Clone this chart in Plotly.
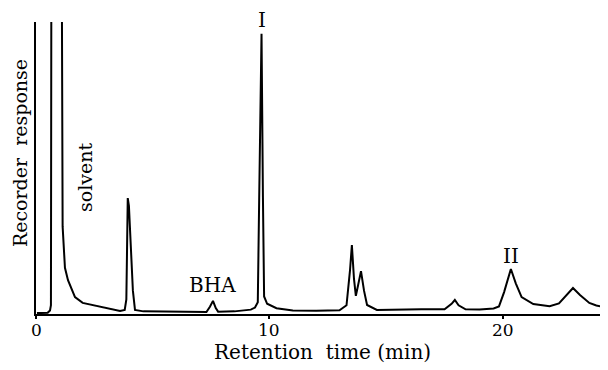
import plotly.graph_objects as go

# Chromatogram trace (retention time in min, recorder response in % of full scale)
time_min = [0.04, 0.5, 0.6, 0.64, 0.66, 1.10, 1.14, 1.24, 1.37, 1.67, 2.0, 2.8, 3.6, 3.8, 3.87, 3.93,
            3.98, 4.15, 4.24, 4.6, 5.5, 6.5, 7.3, 7.45, 7.58, 7.7, 7.8, 8.5, 9.2, 9.38, 9.5, 9.56,
            9.66, 9.72, 9.77, 9.9, 10.3, 11.0, 12.0, 13.0, 13.3, 13.45, 13.53, 13.62, 13.7, 13.8,
            13.92, 14.05, 14.18, 14.6, 15.5, 16.5, 17.5, 17.8, 17.94, 18.1, 18.4, 19.0, 19.6, 19.83,
            20.05, 20.34, 20.55, 20.8, 21.3, 22.0, 22.4, 22.7, 23.0, 23.3, 23.7, 24.0, 24.4]
response = [0.3, 0.4, 1.2, 3, 130, 130, 30, 15.8, 11.6, 5.8, 3.8, 2.3, 1.0, 1.4, 5, 39.7,
            37, 8, 1.4, 0.9, 0.8, 0.7, 0.7, 2.5, 4.5, 2.0, 0.8, 0.9, 1.5, 2.2, 4, 40,
            96, 40, 6, 3.5, 2, 1.2, 1.1, 1.3, 3, 15, 23.6, 12, 6.2, 10,
            14.7, 8, 3.1, 1.4, 1.6, 1.6, 1.6, 3.5, 4.8, 3, 1.6, 1.5, 1.9, 2.6,
            7.5, 15.4, 10.5, 5.8, 3.4, 2.7, 3.6, 6.3, 8.9, 6.5, 3.8, 2.9, 2.3]

x_ticks = [0, 10, 20]
x_tick_labels = ["0", "10", "20"]

peak_labels = ["solvent", "BHA", "II"]
peak_label_x = [2.1, 7.58, 20.34]
peak_label_y = [46.6, 10, 19.9]

SERIF = "DejaVu Serif"

fig = go.Figure()
fig.add_trace(go.Scatter(x=time_min, y=response, mode="lines",
                         line=dict(color="black", width=2), hoverinfo="skip"))

annotations = []
for lab, lx, ly in zip(peak_labels, peak_label_x, peak_label_y):
    annotations.append(dict(x=lx, y=ly, xref="x", yref="y", text=lab, showarrow=False,
                            textangle=-90 if lab == "solvent" else 0,
                            font=dict(family=SERIF, size=19 if lab == "solvent" else 20, color="black")))
annotations.append(dict(x=9.66, y=1.007, xref="x", yref="paper", text="I", showarrow=False,
                        yanchor="middle", font=dict(family=SERIF, size=20, color="black")))
for tv, tl in zip(x_ticks, x_tick_labels):
    annotations.append(dict(x=tv, y=-0.056, xref="x", yref="paper", text=tl, showarrow=False,
                            xanchor="center", yanchor="middle",
                            font=dict(family=SERIF, size=17, color="black")))
annotations.append(dict(x=-0.028, y=0.551, xref="paper", yref="paper", text="Recorder  response",
                        showarrow=False, textangle=-90, xanchor="center", yanchor="middle",
                        font=dict(family=SERIF, size=19, color="black")))
annotations.append(dict(x=0.5, y=-0.131, xref="paper", yref="paper", text="Retention  time (min)",
                        showarrow=False, xanchor="center", yanchor="middle",
                        font=dict(family=SERIF, size=20, color="black")))

# page body has an 8px margin, so the figure is drawn 8px smaller and shifted
fig.update_layout(
    width=600, height=362,
    margin=dict(l=28, r=0, t=14, b=56),
    paper_bgcolor="white", plot_bgcolor="white",
    showlegend=False,
    annotations=annotations,
    xaxis=dict(range=[0, 24.5], showgrid=False, zeroline=False, showline=True,
               linecolor="black", linewidth=1.5, ticks="outside", ticklen=3,
               tickcolor="black", tickwidth=1.5, tickvals=x_ticks, showticklabels=False),
    yaxis=dict(range=[0, 100], showgrid=False, zeroline=False, showline=True,
               linecolor="black", linewidth=2, showticklabels=False, ticks=""),
)

fig.write_html("out.html")
